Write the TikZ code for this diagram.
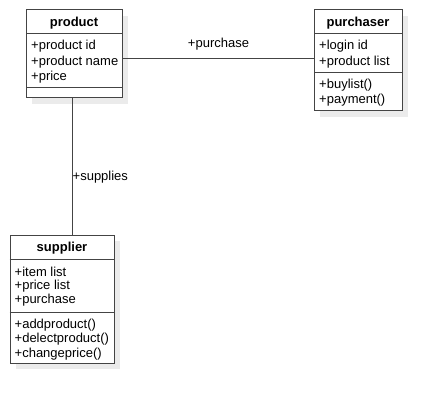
\documentclass[tikz,border=0pt]{standalone}
\usepackage{fontspec}
\setmainfont{Liberation Sans}
\definecolor{linec}{HTML}{444444}
\definecolor{shadowc}{HTML}{EBEBEB}
\tikzset{
  cls/.style={draw=linec, line width=1pt, fill=white, inner sep=0pt, anchor=north west},
  shadowbox/.style={fill=shadowc, draw=none, inner sep=0pt, anchor=north west},
  title/.style={font=\fontsize{13}{15}\selectfont\bfseries, inner sep=0pt, yshift=-1.5pt},
  member/.style={font=\fontsize{13}{15}\selectfont, anchor=west, inner sep=0pt, yshift=-1.5pt},
  conn/.style={draw=linec, line width=1pt},
  lbl/.style={font=\fontsize{13}{15}\selectfont, inner sep=0pt}
}
\begin{document}
\begin{tikzpicture}[x=1pt,y=-1pt]
\useasboundingbox (0,0) rectangle (442,404);
% shadows
\node[shadowbox, minimum width=96pt, minimum height=87.5pt] (pshadow) at (32,16) {};
\node[shadowbox, minimum width=88pt, minimum height=100.5pt] (qshadow) at (320,16) {};
\node[shadowbox, minimum width=104.5pt, minimum height=128.5pt] (sshadow) at (15.5,240.5) {};
% product
\node[cls, minimum width=96pt, minimum height=87.5pt] (product) at (26,9.5) {};
\draw[conn] (26,34) -- (122,34);
\draw[conn] (26,88) -- (122,88);
\node[title] (productT) at (74,22) {product};
\node[member] (p1) at (31,45) {+product id};
\node[member] (p2) at (31,60.5) {+product name};
\node[member] (p3) at (31,76) {+price};
% purchaser
\node[cls, minimum width=88pt, minimum height=100.5pt] (purchaser) at (314,9.5) {};
\draw[conn] (314,34) -- (402,34);
\draw[conn] (314,73) -- (402,73);
\node[title] (purchaserT) at (358,22) {purchaser};
\node[member] (q1) at (319,45) {+login id};
\node[member] (q2) at (319,60.5) {+product list};
\node[member] (q3) at (319,83.5) {+buylist()};
\node[member] (q4) at (319,99) {+payment()};
% supplier
\node[cls, minimum width=104.5pt, minimum height=128.5pt] (supplier) at (9.5,234.5) {};
\draw[conn] (9.5,259) -- (114,259);
\draw[conn] (9.5,312.5) -- (114,312.5);
\node[title] (supplierT) at (62,247) {supplier};
\node[member] (s1) at (14.5,270) {+item list};
\node[member] (s2) at (14.5,284.5) {+price list};
\node[member] (s3) at (14.5,299) {+purchase};
\node[member] (s4) at (14.5,323.5) {+addproduct()};
\node[member] (s5) at (14.5,338) {+delectproduct()};
\node[member] (s6) at (14.5,352.5) {+changeprice()};
% connectors
\draw[conn] (product.east |- 0,59) -- node[lbl, above=8pt] (purchaseL) {+purchase} (purchaser.west |- 0,59);
\draw[conn] (product.south -| 72,0) -- (supplier.north -| 72,0);
\node[lbl, anchor=west] (suppliesL) at (72.5,177) {+supplies};
\end{tikzpicture}
\end{document}
